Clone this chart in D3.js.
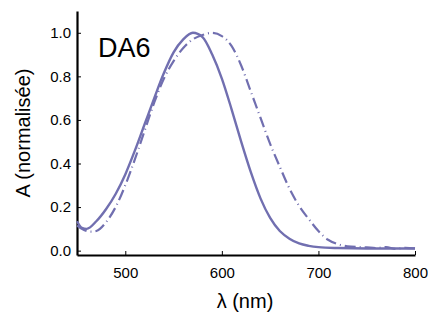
<!DOCTYPE html>
<html>
<head>
<meta charset="utf-8">
<script src="https://cdn.jsdelivr.net/npm/d3@7"></script>
<style>
  body { margin: 0; background: #fff; }
  svg text { font-family: "Liberation Sans", Arial, sans-serif; fill: #000; }
</style>
</head>
<body>
<div id="chart"></div>
<script>
// spectra
const solidLambda = [450, 455, 460, 470, 480, 490, 500, 510, 520, 530, 540, 550, 560, 570, 580, 590, 600, 610, 620, 630, 640, 650, 660, 670, 680, 690, 700, 720, 750, 800];
const solidAbs    = [0.135, 0.105, 0.10, 0.135, 0.19, 0.26, 0.35, 0.46, 0.58, 0.70, 0.815, 0.91, 0.97, 1.0, 0.98, 0.90, 0.79, 0.65, 0.50, 0.36, 0.24, 0.15, 0.09, 0.055, 0.033, 0.022, 0.016, 0.012, 0.01, 0.01];

const dashLambda = [450, 455, 460, 465, 470, 480, 490, 500, 510, 520, 530, 540, 550, 560, 570, 580, 590, 600, 610, 620, 630, 640, 650, 660, 670, 680, 690, 700, 710, 720, 730, 750, 760, 770, 780, 790, 800];
const dashAbs    = [0.115, 0.10, 0.09, 0.087, 0.09, 0.13, 0.20, 0.30, 0.42, 0.55, 0.68, 0.79, 0.87, 0.93, 0.97, 0.99, 1.0, 0.985, 0.94, 0.85, 0.73, 0.61, 0.49, 0.385, 0.285, 0.205, 0.145, 0.09, 0.05, 0.03, 0.02, 0.015, 0.012, 0.016, 0.008, 0.013, 0.01];

const xTicks = [500, 600, 700, 800];
const yTicks = [0, 0.2, 0.4, 0.6, 0.8, 1.0];

const width = 428, height = 320;
const lineColor = "#716fb0";

const svg = d3.select("#chart").append("svg")
  .attr("width", width)
  .attr("height", height);

const x = d3.scaleLinear().domain([450, 800]).range([77, 415]);
const y = d3.scaleLinear().domain([-0.02, 1.1]).range([255, 11]);

// axes, ticks pointing inward
const xAxis = svg.append("g")
  .attr("transform", `translate(0,${y(-0.02)})`)
  .call(d3.axisBottom(x).tickValues(xTicks).tickFormat(d3.format("d"))
    .tickSizeInner(-4).tickSizeOuter(0).tickPadding(12));

const yAxis = svg.append("g")
  .attr("transform", `translate(${x(450)},0)`)
  .call(d3.axisLeft(y).tickValues(yTicks).tickFormat(d3.format(".1f"))
    .tickSizeInner(-4).tickSizeOuter(0).tickPadding(6));

[xAxis, yAxis].forEach(g => {
  g.select(".domain").attr("stroke", "#000").attr("stroke-width", 2.2);
  g.selectAll(".tick line").attr("stroke", "#000").attr("stroke-width", 1);
  g.selectAll(".tick text").attr("font-size", 15).attr("fill", "#000");
});

const line = d3.line()
  .x(d => x(d[0]))
  .y(d => y(d[1]))
  .curve(d3.curveMonotoneX);

svg.append("path")
  .datum(dashLambda.map((l, i) => [l, dashAbs[i]]))
  .attr("fill", "none")
  .attr("stroke", lineColor)
  .attr("stroke-width", 2.2)
  .attr("stroke-dasharray", "11,4,1,4")
  .attr("d", line);

svg.append("path")
  .datum(solidLambda.map((l, i) => [l, solidAbs[i]]))
  .attr("fill", "none")
  .attr("stroke", lineColor)
  .attr("stroke-width", 2.4)
  .attr("d", line);

// labels
svg.append("text")
  .attr("x", 98)
  .attr("y", 57)
  .attr("font-size", 27)
  .text("DA6");

svg.append("text")
  .attr("x", 245)
  .attr("y", 308)
  .attr("text-anchor", "middle")
  .attr("font-size", 20)
  .text("λ (nm)");

svg.append("text")
  .attr("transform", "translate(30,133) rotate(-90)")
  .attr("text-anchor", "middle")
  .attr("font-size", 20)
  .text("A (normalisée)");
</script>
</body>
</html>
